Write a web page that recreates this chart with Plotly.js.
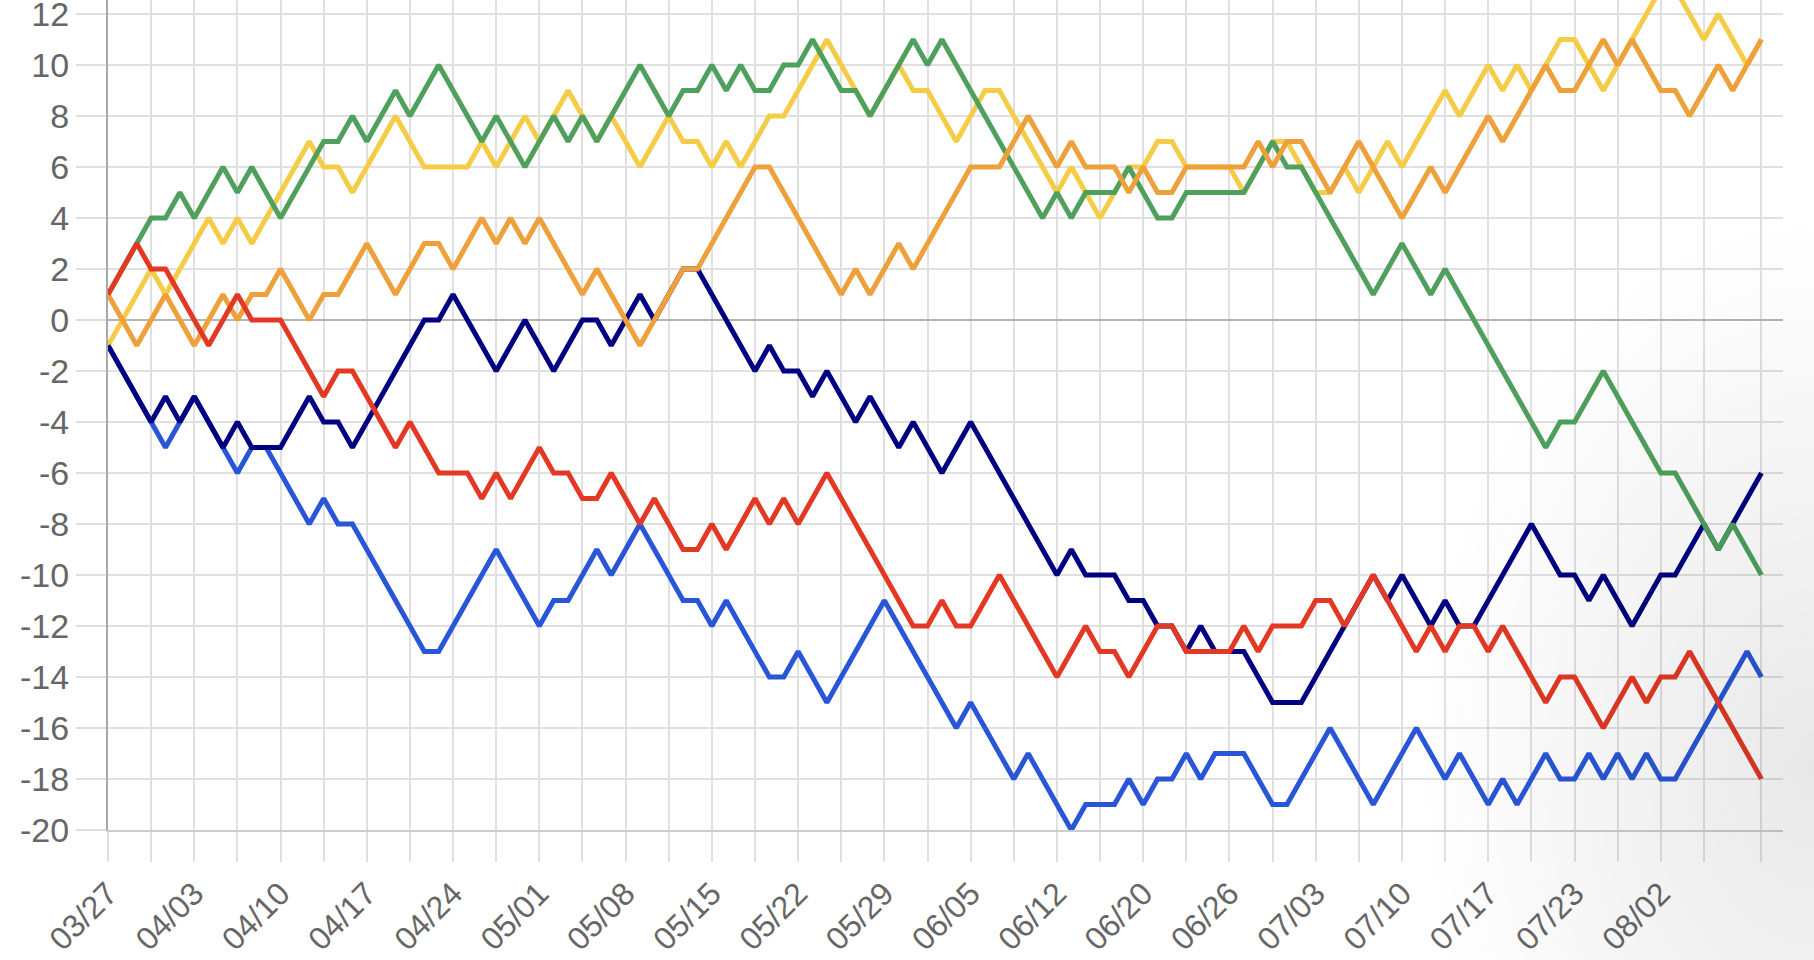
<!DOCTYPE html>
<html>
<head>
<meta charset="utf-8">
<script src="https://cdn.plot.ly/plotly-3.0.1.min.js"></script>
<style>
  html, body { margin: 0; padding: 0; background: #fff; }
  #wrap { position: relative; width: 1814px; height: 960px; }
  #myDiv { width: 1814px; height: 960px; }
  /* soft shadow in the lower right corner of the screenshot */
  #shade {
    position: absolute; left: 0; top: 0; width: 100%; height: 100%;
    pointer-events: none;
    background: radial-gradient(ellipse 22% 58% at 100% 80%, rgba(0,0,0,0.09), rgba(0,0,0,0) 100%);
  }
</style>
</head>
<body>
<div id="wrap">
  <div id="myDiv"></div>
  <div id="shade"></div>
</div>
<script>
// tick labels, one every 6 points
var tickLabels = ['03/27', '04/03', '04/10', '04/17', '04/24', '05/01', '05/08', '05/15', '05/22', '05/29',
                  '06/05', '06/12', '06/20', '06/26', '07/03', '07/10', '07/17', '07/23', '08/02'];

var yTicks = [-20, -18, -16, -14, -12, -10, -8, -6, -4, -2, 0, 2, 4, 6, 8, 10, 12];

var navyValues = [-1, -2, -3, -4, -3, -4, -3, -4, -5, -4, -5, -5, -5, -4, -3, -4, -4, -5, -4, -3, -2, -1, 0, 0, 1,
  0, -1, -2, -1, 0, -1, -2, -1, 0, 0, -1, 0, 1, 0, 1, 2, 2, 1, 0, -1, -2, -1, -2,
  -2, -3, -2, -3, -4, -3, -4, -5, -4, -5, -6, -5, -4, -5, -6, -7, -8, -9, -10, -9, -10, -10,
  -10, -11, -11, -12, -12, -13, -12, -13, -13, -13, -14, -15, -15, -15, -14, -13, -12, -11, -10, -11, -10, -11, -12,
  -11, -12, -12, -11, -10, -9, -8, -9, -10, -10, -11, -10, -11, -12, -11, -10, -10, -9, -8, -9, -8, -7, -6];

var blueValues = [-1, -2, -3, -4, -5, -4, -3, -4, -5, -6, -5, -5, -6, -7, -8, -7, -8, -8, -9, -10, -11, -12, -13, -13, -12,
  -11, -10, -9, -10, -11, -12, -11, -11, -10, -9, -10, -9, -8, -9, -10, -11, -11, -12, -11, -12, -13, -14, -14,
  -13, -14, -15, -14, -13, -12, -11, -12, -13, -14, -15, -16, -15, -16, -17, -18, -17, -18, -19, -20, -19, -19,
  -19, -18, -19, -18, -18, -17, -18, -17, -17, -17, -18, -19, -19, -18, -17, -16, -17, -18, -19, -18, -17, -16, -17,
  -18, -17, -18, -19, -18, -19, -18, -17, -18, -18, -17, -18, -17, -18, -17, -18, -18, -17, -16, -15, -14, -13, -14];

var redValues = [1, 2, 3, 2, 2, 1, 0, -1, 0, 1, 0, 0, 0, -1, -2, -3, -2, -2, -3, -4, -5, -4, -5, -6, -6,
  -6, -7, -6, -7, -6, -5, -6, -6, -7, -7, -6, -7, -8, -7, -8, -9, -9, -8, -9, -8, -7, -8, -7,
  -8, -7, -6, -7, -8, -9, -10, -11, -12, -12, -11, -12, -12, -11, -10, -11, -12, -13, -14, -13, -12, -13,
  -13, -14, -13, -12, -12, -13, -13, -13, -13, -12, -13, -12, -12, -12, -11, -11, -12, -11, -10, -11, -12, -13, -12,
  -13, -12, -12, -13, -12, -13, -14, -15, -14, -14, -15, -16, -15, -14, -15, -14, -14, -13, -14, -15, -16, -17, -18];

var orangeValues = [1, 0, -1, 0, 1, 0, -1, 0, 1, 0, 1, 1, 2, 1, 0, 1, 1, 2, 3, 2, 1, 2, 3, 3, 2,
  3, 4, 3, 4, 3, 4, 3, 2, 1, 2, 1, 0, -1, 0, 1, 2, 2, 3, 4, 5, 6, 6, 5,
  4, 3, 2, 1, 2, 1, 2, 3, 2, 3, 4, 5, 6, 6, 6, 7, 8, 7, 6, 7, 6, 6,
  6, 5, 6, 5, 5, 6, 6, 6, 6, 6, 7, 6, 7, 7, 6, 5, 6, 7, 6, 5, 4, 5, 6,
  5, 6, 7, 8, 7, 8, 9, 10, 9, 9, 10, 11, 10, 11, 10, 9, 9, 8, 9, 10, 9, 10, 11];

var yellowValues = [-1, 0, 1, 2, 1, 2, 3, 4, 3, 4, 3, 4, 5, 6, 7, 6, 6, 5, 6, 7, 8, 7, 6, 6, 6,
  6, 7, 6, 7, 8, 7, 8, 9, 8, 7, 8, 7, 6, 7, 8, 7, 7, 6, 7, 6, 7, 8, 8,
  9, 10, 11, 10, 9, 8, 9, 10, 9, 9, 8, 7, 8, 9, 9, 8, 7, 6, 5, 6, 5, 4,
  5, 6, 6, 7, 7, 6, 6, 6, 6, 5, 6, 7, 7, 6, 5, 5, 6, 5, 6, 7, 6, 7, 8,
  9, 8, 9, 10, 9, 10, 9, 10, 11, 11, 10, 9, 10, 11, 12, 13, 13, 12, 11, 12, 11, 10, 11];

var greenValues = [1, 2, 3, 4, 4, 5, 4, 5, 6, 5, 6, 5, 4, 5, 6, 7, 7, 8, 7, 8, 9, 8, 9, 10, 9,
  8, 7, 8, 7, 6, 7, 8, 7, 8, 7, 8, 9, 10, 9, 8, 9, 9, 10, 9, 10, 9, 9, 10,
  10, 11, 10, 9, 9, 8, 9, 10, 11, 10, 11, 10, 9, 8, 7, 6, 5, 4, 5, 4, 5, 5,
  5, 6, 5, 4, 4, 5, 5, 5, 5, 5, 6, 7, 6, 6, 5, 4, 3, 2, 1, 2, 3, 2, 1,
  2, 1, 0, -1, -2, -3, -4, -5, -4, -4, -3, -2, -3, -4, -5, -6, -6, -7, -8, -9, -8, -9, -10];

var labelStep = 6;
var gridStep = 3;
var xIndex = navyValues.map(function (v, i) { return i; });
var lastIndex = xIndex.length - 1;

// gridlines every 3 points plus one at the last point, labels every 6
var tickVals = [];
var tickText = [];
for (var i = 0; i <= lastIndex - gridStep; i += gridStep) {
  var k = i / labelStep;
  tickVals.push(i);
  tickText.push(i % labelStep === 0 && k < tickLabels.length ? tickLabels[k] : '');
}
tickVals.push(lastIndex);
tickText.push('');

function line(values, color) {
  return {
    x: xIndex,
    y: values,
    type: 'scatter',
    mode: 'lines',
    line: { color: color, width: 5 },
    hoverinfo: 'skip'
  };
}

// later traces are drawn on top
var data = [
  line(blueValues, 'rgb(40, 86, 214)'),
  line(yellowValues, 'rgb(245, 204, 72)'),
  line(navyValues, 'rgb(0, 0, 128)'),
  line(greenValues, 'rgb(78, 160, 92)'),
  line(orangeValues, 'rgb(238, 160, 58)'),
  line(redValues, 'rgb(226, 56, 36)')
];

var layout = {
  width: 1814,
  height: 960,
  showlegend: false,
  margin: { l: 108, r: 31, t: 0, b: 130 },
  paper_bgcolor: 'white',
  plot_bgcolor: 'white',
  font: { family: 'Liberation Sans, Arial, sans-serif', size: 33, color: '#666' },
  xaxis: {
    range: [0, 116.5],
    tickmode: 'array',
    tickvals: tickVals,
    ticktext: tickText,
    tickangle: -45,
    tickfont: { size: 32 },
    showgrid: true,
    gridcolor: '#e0e0e0',
    gridwidth: 2,
    zeroline: false,
    showline: true,
    linecolor: '#cdcdcd',
    linewidth: 2,
    ticks: 'outside',
    ticklen: 30,
    tickwidth: 2,
    tickcolor: '#e0e0e0'
  },
  yaxis: {
    range: [-20, 12.55],
    tickmode: 'array',
    tickvals: yTicks,
    ticktext: yTicks.map(String),
    tickfont: { size: 34 },
    ticklabeloverflow: 'allow',
    showgrid: true,
    gridcolor: '#e0e0e0',
    gridwidth: 2,
    zeroline: true,
    zerolinecolor: '#b4b4b4',
    zerolinewidth: 2,
    showline: true,
    linecolor: '#a8a8a8',
    linewidth: 2,
    ticks: 'outside',
    ticklen: 30,
    tickwidth: 2,
    tickcolor: '#e0e0e0'
  }
};

var config = {
  displayModeBar: false,
  staticPlot: true
};

Plotly.newPlot('myDiv', data, layout, config);
</script>
</body>
</html>
